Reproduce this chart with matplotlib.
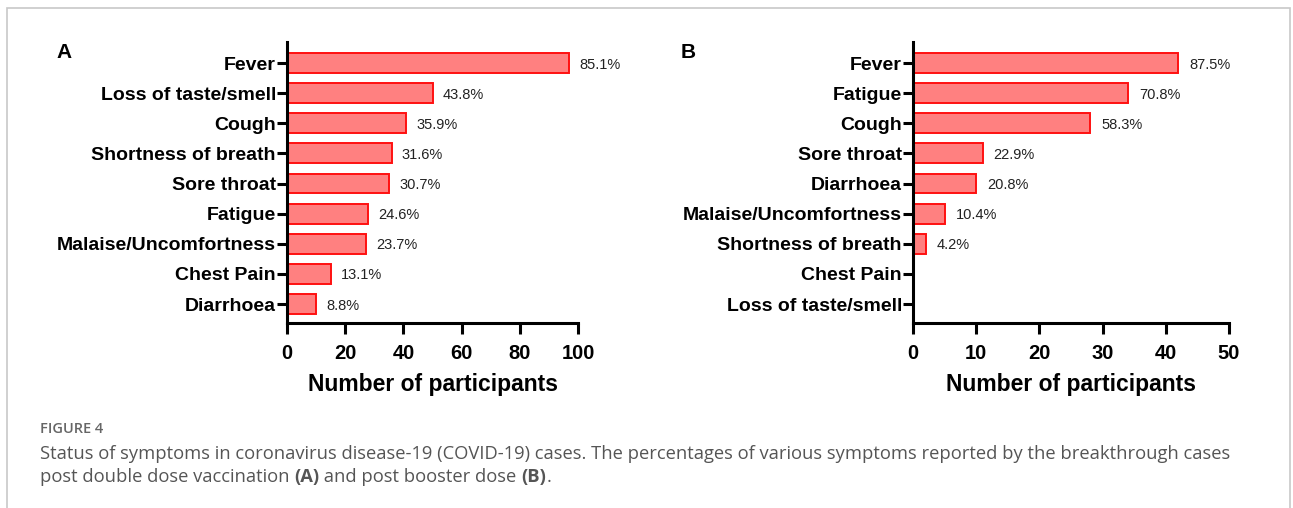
import matplotlib.pyplot as plt
from matplotlib.patches import Rectangle

# Panel A: post double dose (n = 114)
symptoms_a = ["Fever", "Loss of taste/smell", "Cough", "Shortness of breath",
              "Sore throat", "Fatigue", "Malaise/Uncomfortness", "Chest Pain",
              "Diarrhoea"]
counts_a = [97, 50, 41, 36, 35, 28, 27, 15, 10]
pct_a = ["85.1%", "43.8%", "35.9%", "31.6%", "30.7%", "24.6%", "23.7%",
         "13.1%", "8.8%"]

# Panel B: post booster dose (n = 48)
symptoms_b = ["Fever", "Fatigue", "Cough", "Sore throat", "Diarrhoea",
              "Malaise/Uncomfortness", "Shortness of breath", "Chest Pain",
              "Loss of taste/smell"]
counts_b = [42, 34, 28, 11, 10, 5, 2, 0, 0]
pct_b = ["87.5%", "70.8%", "58.3%", "22.9%", "20.8%", "10.4%", "4.2%", "", ""]

xticks_a = [0, 20, 40, 60, 80, 100]
xticks_b = [0, 10, 20, 30, 40, 50]

plt.rcParams["font.family"] = ["Liberation Sans", "DejaVu Sans"]

fig = plt.figure(figsize=(12.93, 5.08), dpi=100)

# light frame around the figure
fig.patches.append(Rectangle((7 / 1293, -0.1), (1290 - 7) / 1293, 1.1 - 8 / 508,
                             transform=fig.transFigure, fill=False,
                             edgecolor="#c8c8c8", linewidth=1.2))


def panel(rect, labels, counts, pcts, ticks, letter, letter_x):
    ax = fig.add_axes(rect)
    y = list(range(len(labels)))
    ax.barh(y, counts, height=0.66, color="#ff8080", edgecolor="#ff1010",
            linewidth=1.4)
    xmax = ticks[-1]
    for yi, c, p in zip(y, counts, pcts):
        if p:
            ax.text(c + xmax * 0.035, yi + 0.05, p, va="center", ha="left",
                    fontsize=10.5, color="#222222")
    ax.set_ylim(len(labels) - 1 + 0.63, -0.7)
    ax.set_xlim(0, xmax)
    ax.set_yticks(y)
    ax.set_yticklabels(labels, fontsize=14, fontweight="bold")
    ax.set_xticks(ticks)
    ax.set_xticklabels([str(t) for t in ticks], fontsize=14.5, fontweight="bold")
    ax.set_xlabel("Number of participants", fontsize=16.5, fontweight="bold",
                  labelpad=7)
    for s in ["top", "right"]:
        ax.spines[s].set_visible(False)
    for s in ["left", "bottom"]:
        ax.spines[s].set_linewidth(2.2)
    ax.tick_params(axis="both", width=2.2, length=8)
    ax.tick_params(axis="x", pad=7)
    ax.tick_params(axis="y", length=7, pad=1)
    fig.text(letter_x, 1 - 52 / 508, letter, fontsize=15, fontweight="bold",
             va="center", ha="left")
    return ax


panel([287 / 1293, 1 - 323 / 508, (578 - 287) / 1293, (323 - 42) / 508],
      symptoms_a, counts_a, pct_a, xticks_a, "A", 56 / 1293)
panel([913 / 1293, 1 - 323 / 508, (1229 - 913) / 1293, (323 - 42) / 508],
      symptoms_b, counts_b, pct_b, xticks_b, "B", 681 / 1293)

cap_font = ["Open Sans", "DejaVu Sans"]
cap_kw = dict(fontsize=13.2, color="#555555", family=cap_font, va="baseline")
fig.text(40 / 1293, 1 - 429 / 508, "FIGURE 4", fontsize=10.5, color="#666666",
         family=cap_font, fontweight="semibold", va="center")
fig.text(40 / 1293, 1 - 459 / 508,
         "Status of symptoms in coronavirus disease-19 (COVID-19) cases. The "
         "percentages of various symptoms reported by the breakthrough cases",
         **cap_kw)

# second caption line with bold panel letters, placed piece by piece
renderer = fig.canvas.get_renderer()
x = 40
pieces = [("post double dose vaccination ", "normal"), ("(A)", "bold"),
          (" and post booster dose ", "normal"), ("(B)", "bold"), (".", "normal")]
for txt, wt in pieces:
    t = fig.text(x / 1293, 1 - 482 / 508, txt, fontweight=wt, **cap_kw)
    x = t.get_window_extent(renderer).x1

fig.savefig("out.png", dpi=100)
